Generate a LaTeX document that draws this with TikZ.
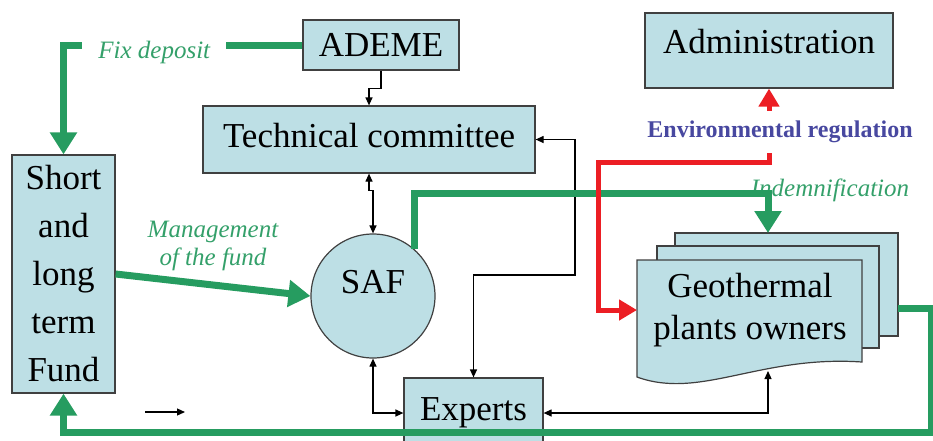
\documentclass[tikz,border=0pt]{standalone}
\usepackage{fontspec}
\setmainfont{Liberation Serif}
\usetikzlibrary{arrows.meta}

\definecolor{boxblue}{RGB}{189,223,229}
\definecolor{flowgreen}{RGB}{38,156,96}
\definecolor{labelgreen}{RGB}{52,160,106}
\definecolor{regred}{RGB}{236,30,36}
\definecolor{regblue}{RGB}{72,72,160}

\begin{document}
\begin{tikzpicture}[x=1pt,y=-1pt,
    box/.style={draw=black!75,line width=1.2pt,fill=boxblue,font=\fontsize{35}{48}\selectfont,align=center,inner sep=0pt},
    page/.style={draw=black!75,line width=1.2pt,fill=boxblue},
    lbl/.style={text=labelgreen,font=\fontsize{25}{28}\selectfont\itshape,align=center},
    flow/.style={draw=flowgreen,line width=7pt,-{Triangle[length=22pt,width=26pt]}},
    reg/.style={draw=regred,line width=5pt,-{Triangle[length=18pt,width=20pt]}},
    link/.style={draw=black,line width=1.2pt,>={Triangle[length=8pt,width=7pt]}}]
  \useasboundingbox (0,0) rectangle (933,440);

  % boxes
  \node[box,minimum width=156pt,minimum height=50pt] (ademe) at (381,45) {ADEME};
  \node[box,minimum width=332pt,minimum height=67pt,text depth=8pt] (tech) at (369,139.5) {Technical committee};
  \node[box,minimum width=248pt,minimum height=75pt,text depth=19pt] (admin) at (769,50.5) {Administration};
  \node[box,minimum width=103pt,minimum height=238pt] (fund) at (63.5,274) {Short\\and\\long\\term\\Fund};
  \node[box,circle,minimum size=124pt,text depth=28pt] (saf) at (373,296) {SAF};
  \node[box,minimum width=139pt,minimum height=70pt] (expert) at (473.5,413) {Experts};

  % plant owners (stacked pages)
  \filldraw[page] (675,233) rectangle (898,336);
  \filldraw[page] (657,246) rectangle (879,348);
  \filldraw[page] (637,260) -- (862,260) -- (862,362)
    .. controls (760,355) and (700,400) .. (637,377) -- cycle;
  \node[box,draw=none,fill=none,font=\fontsize{35}{42}\selectfont] (owners) at (750,310) {Geothermal\\plants owners};
  \coordinate (ptop) at (768,233);
  \coordinate (pleft) at (637,310);
  \coordinate (pright) at (898,308);
  \coordinate (pbottom) at (768,371);
  \coordinate (stray) at (145,412);

  % labels
  \node[lbl] (mgmt) at (213,246) {Management\\of the fund};
  \node[lbl] (indem) at (830,190) {Indemnification};
  \node[font=\fontsize{24}{28}\selectfont\bfseries,text=regblue,inner sep=10pt] (envreg) at (780,132) {Environmental regulation};

  % thin links
  \draw[link,->] (ademe.south) -- ++(0,18) -| (tech.north);
  \draw[link,<->] (tech.south) -- ++(0,17) -| (saf.north);
  \draw[link,<->] (tech.east) -| (575,275) -| (expert.north);
  \draw[link,<->] (saf.south) |- (expert.west);
  \draw[link,<->] (expert.east) -| (pbottom);
  \draw[link,->] (stray) -- ++(40,0);

  % money flows
  \draw[flow] (ademe.west) -| (fund.north)
    node[lbl,pos=0.31,fill=white,inner xsep=16pt,yshift=-7pt] (fixdep) {Fix deposit};
  \draw[flow] (fund.east) -- (saf.west);
  \draw[flow] (saf.48) -- ++(0,-56) -| (ptop);
  \draw[flow] (pright) -| (931,432) -| (fund.south);

  % regulation
  \draw[reg] (admin.south |- envreg.south) -- ++(0,9) -| (598,310) -- (pleft);
  \draw[reg] (admin.south |- envreg.north) -- (admin.south);
\end{tikzpicture}
\end{document}
